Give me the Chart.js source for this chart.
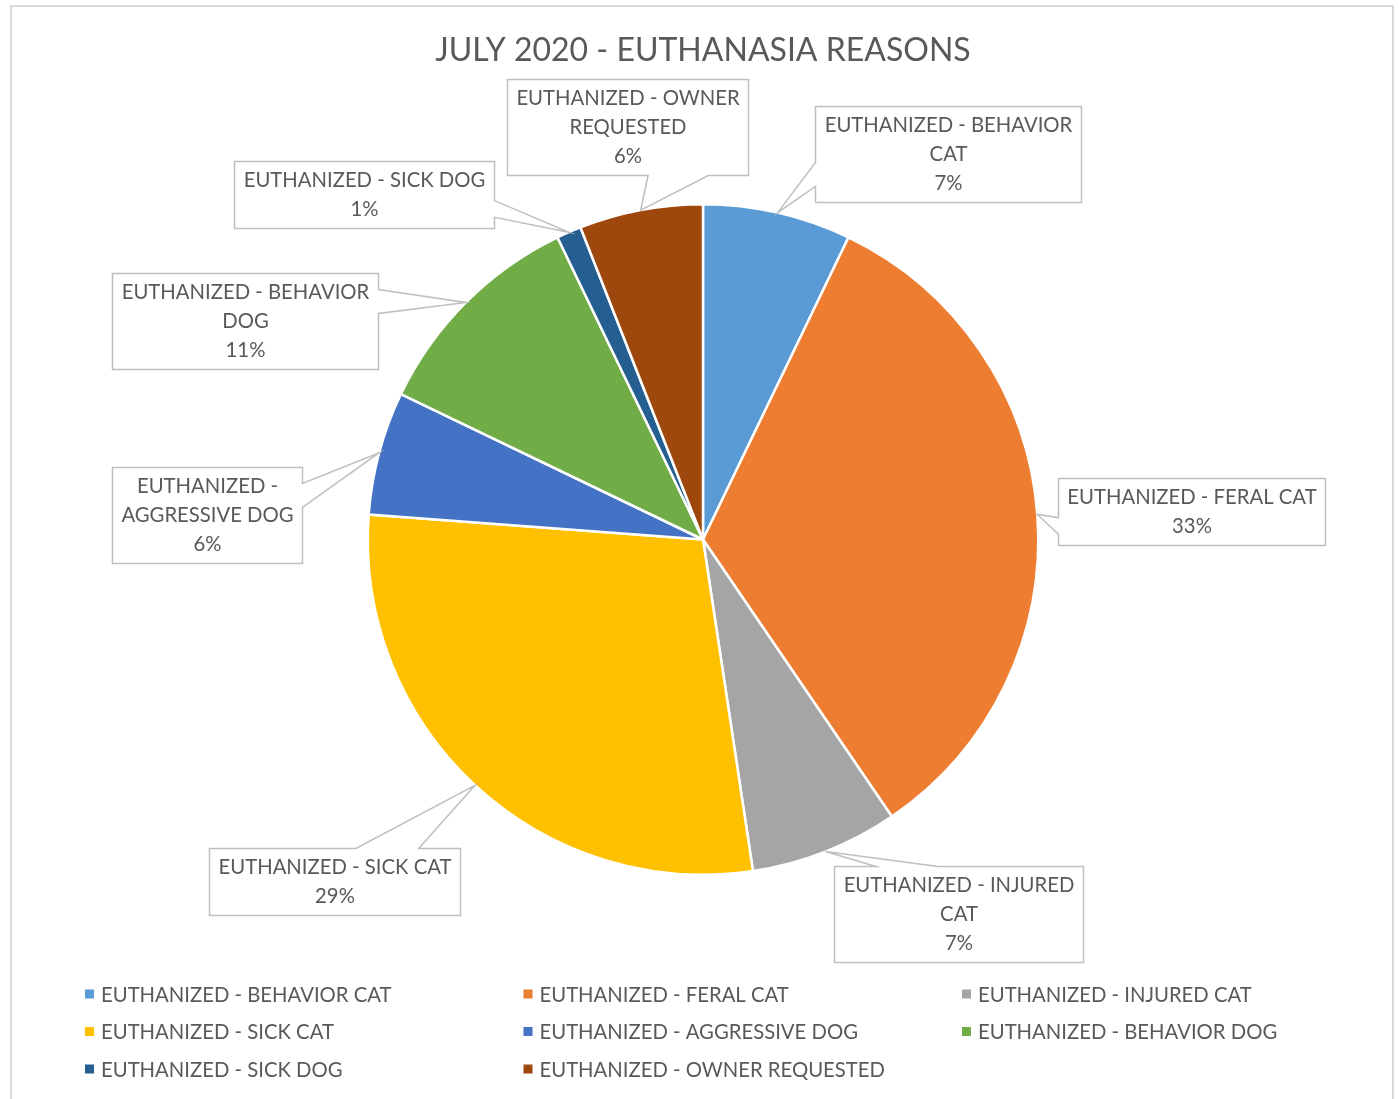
<!DOCTYPE html>
<html>
<head>
<meta charset="utf-8">
<title>July 2020 - Euthanasia Reasons</title>
<script src="https://cdn.jsdelivr.net/npm/chart.js@4/dist/chart.umd.min.js"></script>
<style>
  html, body { margin: 0; padding: 0; background: #fff; }
  #wrap { width: 1399px; height: 1099px; }
</style>
</head>
<body>
<div id="wrap"><canvas id="chart" width="1399" height="1099"></canvas></div>
<script>
const chartTitle = "JULY 2020 - EUTHANASIA REASONS";
const categories = [
  "EUTHANIZED - BEHAVIOR CAT",
  "EUTHANIZED - FERAL CAT",
  "EUTHANIZED - INJURED CAT",
  "EUTHANIZED - SICK CAT",
  "EUTHANIZED - AGGRESSIVE DOG",
  "EUTHANIZED - BEHAVIOR DOG",
  "EUTHANIZED - SICK DOG",
  "EUTHANIZED - OWNER REQUESTED"
];
const counts = [6, 28, 6, 24, 5, 9, 1, 5];
const sliceColors = ["#5B9BD5", "#ED7D31", "#A5A5A5", "#FFC000", "#4472C4", "#70AD47", "#255E91", "#9E480E"];

const FONT = "Lato, 'Liberation Sans', sans-serif";
const TEXT_GREY = "#595959";

// callout box centre, relative to the point where it touches the slice
const calloutOffsets = [[170, -59], [154, -3], [133, 62], [-140, 96], [-172, 62], [-221, 19], [-205, -38], [-13, -83]];

function wrapText(ctx, text, maxWidth) {
  const words = text.split(" ");
  const lines = [];
  let cur = "";
  words.forEach(w => {
    const test = cur ? cur + " " + w : w;
    if (cur && ctx.measureText(test).width > maxWidth) {
      lines.push(cur);
      cur = w;
    } else {
      cur = test;
    }
  });
  if (cur) lines.push(cur);
  return lines;
}

// rectangle with a wedge pointing at (px, py), like the Office "wedgeRectCallout" shape
function wedgeRect(ctx, l, t, w, h, px, py) {
  const r = l + w, b = t + h;
  const dx = px - (l + w / 2), dy = py - (t + h / 2);
  const vertical = Math.abs(dy) - Math.abs(dx * h / w) > 0;
  const x1 = l + w * (dx > 0 ? 7 : 2) / 12, x2 = l + w * (dx > 0 ? 10 : 5) / 12;
  const y1 = t + h * (dy > 0 ? 7 : 2) / 12, y2 = t + h * (dy > 0 ? 10 : 5) / 12;
  ctx.beginPath();
  ctx.moveTo(l, t);
  if (vertical && dy < 0) { ctx.lineTo(x1, t); ctx.lineTo(px, py); ctx.lineTo(x2, t); }
  ctx.lineTo(r, t);
  if (!vertical && dx > 0) { ctx.lineTo(r, y1); ctx.lineTo(px, py); ctx.lineTo(r, y2); }
  ctx.lineTo(r, b);
  if (vertical && dy > 0) { ctx.lineTo(x2, b); ctx.lineTo(px, py); ctx.lineTo(x1, b); }
  ctx.lineTo(l, b);
  if (!vertical && dx < 0) { ctx.lineTo(l, y2); ctx.lineTo(px, py); ctx.lineTo(l, y1); }
  ctx.closePath();
}

const framePlugin = {
  id: "frame",
  beforeDraw(chart) {
    const ctx = chart.ctx;
    ctx.save();
    ctx.fillStyle = "#fff";
    ctx.fillRect(0, 0, chart.width, chart.height);
    ctx.strokeStyle = "#D9D9D9";
    ctx.lineWidth = 2;
    ctx.strokeRect(11, 6, 1382, 1110);
    ctx.restore();
  }
};

const calloutPlugin = {
  id: "callouts",
  afterDatasetsDraw(chart, args, opts) {
    const ctx = chart.ctx;
    const meta = chart.getDatasetMeta(0);
    const values = chart.data.datasets[0].data;
    const total = values.reduce((a, b) => a + b, 0);
    ctx.save();
    ctx.font = opts.fontSize + "px " + FONT;
    meta.data.forEach((arc, i) => {
      const p = arc.getProps(["x", "y", "startAngle", "endAngle", "outerRadius"], true);
      const mid = (p.startAngle + p.endAngle) / 2;
      const tipX = p.x + Math.cos(mid) * p.outerRadius;
      const tipY = p.y + Math.sin(mid) * p.outerRadius;
      const lines = wrapText(ctx, chart.data.labels[i], opts.maxTextWidth);
      lines.push(Math.round(values[i] / total * 100) + "%");
      const textW = Math.max(...lines.map(s => ctx.measureText(s).width));
      const w = Math.round(textW + 2 * opts.padX);
      const h = Math.round(lines.length * opts.lineHeight + 2 * opts.padY);
      const off = opts.offsets[i];
      const l = Math.round(tipX + off[0] - w / 2) + 0.5;
      const t = Math.round(tipY + off[1] - h / 2) + 0.5;
      wedgeRect(ctx, l, t, w, h, tipX, tipY);
      ctx.fillStyle = "#fff";
      ctx.fill();
      ctx.strokeStyle = "#BFBFBF";
      ctx.lineWidth = 1.5;
      ctx.stroke();
      ctx.fillStyle = TEXT_GREY;
      ctx.textAlign = "center";
      ctx.textBaseline = "middle";
      lines.forEach((s, k) => ctx.fillText(s, l + w / 2, t + opts.padY + opts.lineHeight * (k + 0.5)));
    });
    ctx.restore();
  }
};

const legendPlugin = {
  id: "gridLegend",
  afterDraw(chart, args, opts) {
    const ctx = chart.ctx;
    const colors = chart.data.datasets[0].backgroundColor;
    ctx.save();
    ctx.font = opts.fontSize + "px " + FONT;
    ctx.textBaseline = "middle";
    ctx.textAlign = "left";
    chart.data.labels.forEach((label, i) => {
      const x = opts.left + (i % opts.columns) * opts.colWidth;
      const y = opts.top + Math.floor(i / opts.columns) * opts.rowHeight;
      ctx.fillStyle = colors[i];
      ctx.fillRect(x, y - 4.5, 9, 9);
      ctx.fillStyle = TEXT_GREY;
      ctx.fillText(label, x + 16, y + 1);
    });
    ctx.restore();
  }
};

new Chart(document.getElementById("chart"), {
  type: "pie",
  data: {
    labels: categories,
    datasets: [{
      data: counts,
      backgroundColor: sliceColors,
      borderColor: "#fff",
      borderWidth: 2.5
    }]
  },
  options: {
    responsive: false,
    animation: false,
    events: [],
    layout: { padding: { top: 31, bottom: 223, left: 20, right: 13 } },
    plugins: {
      legend: { display: false },
      tooltip: { enabled: false },
      title: {
        display: true,
        text: chartTitle,
        color: TEXT_GREY,
        font: { family: FONT, size: 32, weight: "normal", lineHeight: 1.2 },
        padding: { top: 0, bottom: 133.6 }
      },
      callouts: { fontSize: 20.3, lineHeight: 29, padX: 9, padY: 4.5, maxTextWidth: 255, offsets: calloutOffsets },
      gridLegend: { fontSize: 20.3, columns: 3, left: 85, colWidth: 438.5, top: 994, rowHeight: 37.5 }
    }
  },
  plugins: [framePlugin, calloutPlugin, legendPlugin]
});
</script>
</body>
</html>
